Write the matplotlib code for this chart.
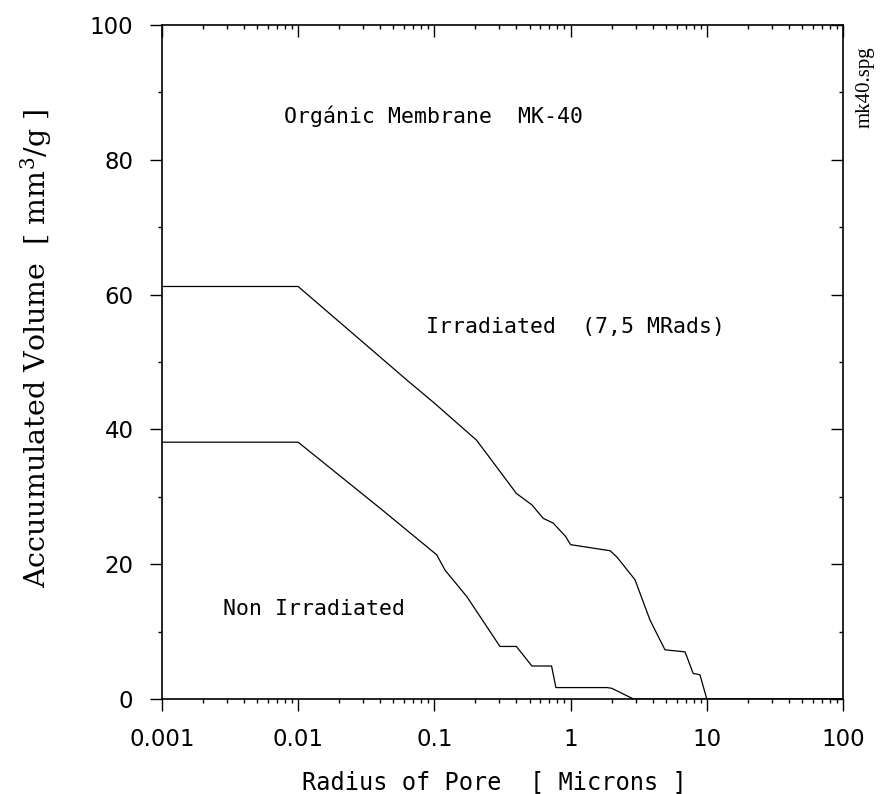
#!/usr/bin/env python3
import matplotlib
matplotlib.use("Agg")
import matplotlib.pyplot as plt
from matplotlib.ticker import FixedLocator, FixedFormatter, LogLocator, MultipleLocator

# pore radius [microns] vs accumulated volume [mm3/g]
irr_radius = [0.001, 0.01, 0.063, 0.1, 0.204, 0.257, 0.40, 0.52, 0.63, 0.746, 0.92,
              1.0, 1.95, 2.18, 2.97, 3.83, 4.93, 6.92, 7.94, 8.9, 10.0, 100.0]
irr_volume = [61.2, 61.2, 47.3, 43.9, 38.4, 35.7, 30.5, 28.8, 26.8, 26.1, 24.1,
              22.9, 22.0, 21.1, 17.7, 11.7, 7.3, 7.0, 3.8, 3.6, 0.0, 0.0]

non_radius = [0.001, 0.01, 0.040, 0.104, 0.12, 0.173, 0.303, 0.40, 0.52, 0.725,
              0.78, 1.85, 2.0, 2.3, 2.9, 100.0]
non_volume = [38.1, 38.1, 28.3, 21.4, 19.1, 15.2, 7.8, 7.8, 4.9, 4.9,
              1.7, 1.7, 1.6, 1.0, 0.0, 0.0]

x_ticks = [0.001, 0.01, 0.1, 1, 10, 100]
x_labels = ["0.001", "0.01", "0.1", "1", "10", "100"]
y_ticks = [0, 20, 40, 60, 80, 100]

plt.rcParams["mathtext.fontset"] = "dejavuserif"

fig = plt.figure(figsize=(8.8, 7.94), dpi=100, facecolor="white")
rect = [0.184, 0.1196, 0.774, 0.849]
ax = fig.add_axes(rect)

ax.plot(irr_radius, irr_volume, color="black", lw=0.9)
ax.plot(non_radius, non_volume, color="black", lw=0.9)

ax.set_xscale("log")
ax.set_xlim(0.001, 100)
ax.set_ylim(0, 100)
ax.xaxis.set_major_locator(FixedLocator(x_ticks))
ax.xaxis.set_major_formatter(FixedFormatter(x_labels))
ax.xaxis.set_minor_locator(LogLocator(base=10, subs=range(2, 10)))
ax.xaxis.set_minor_formatter(FixedFormatter([]))
ax.yaxis.set_major_locator(FixedLocator(y_ticks))
ax.yaxis.set_minor_locator(MultipleLocator(10))

for s in ax.spines.values():
    s.set_linewidth(1.2)

ax.tick_params(which="both", direction="out", top=False, right=False, width=1.0,
               labelsize=16.5, pad=12)
ax.tick_params(which="major", length=8.5)
ax.tick_params(which="minor", length=3)
for lab in ax.get_xticklabels() + ax.get_yticklabels():
    lab.set_family("DejaVu Sans")

# top/right ticks point inwards on the original, so draw them on an overlay
ov = fig.add_axes(rect, sharex=ax, sharey=ax, frameon=False)
ov.patch.set_visible(False)
ov.tick_params(which="both", direction="in", bottom=False, left=False, top=True, right=True,
               labelbottom=False, labelleft=False, width=1.0)
ov.tick_params(which="major", length=8.5)
ov.tick_params(which="minor", length=3)

mono = "DejaVu Sans Mono"
ax.set_xlabel("Radius of Pore  [ Microns ]", family=mono, fontsize=17, va="center")
ax.xaxis.set_label_coords(0.488, -0.123)
ax.set_ylabel("Accuumulated Volume  [ mm$^{3}$/g ]", family="DejaVu Serif", fontsize=20.5,
              va="center")
ax.yaxis.set_label_coords(-0.184, 0.52)

ax.text(0.0079, 86.5, "Orgánic Membrane  MK-40", family=mono, fontsize=15.5, va="center")
ax.text(0.087, 55.2, "Irradiated  (7,5 MRads)", family=mono, fontsize=15.5, va="center")
ax.text(0.0028, 13.4, "Non Irradiated", family=mono, fontsize=15.5, va="center")

fig.text(0.983, 0.89, "mk40.spg", family="Liberation Serif", fontsize=15,
         rotation=90, ha="center", va="center")

fig.savefig("out.png", dpi=100, facecolor="white")
